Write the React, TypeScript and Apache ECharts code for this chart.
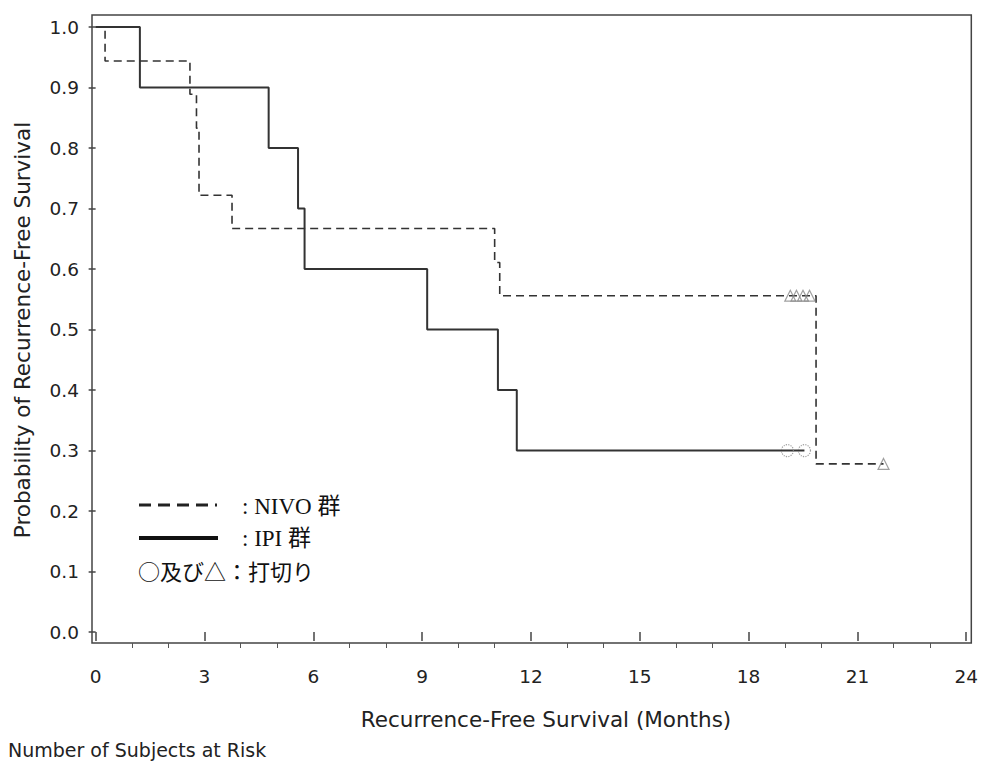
import React, { useEffect, useRef } from "react";
import * as echarts from "echarts";

// Kaplan–Meier steps (months, survival probability)
const nivoTimes = [0, 0.26, 2.6, 2.78, 2.85, 3.76, 11.0, 11.14, 19.86];
const nivoSurv = [1.0, 0.944, 0.889, 0.833, 0.722, 0.667, 0.611, 0.556, 0.278];
const nivoEnd = 21.72;
const nivoCensorTimes = [19.15, 19.32, 19.5, 19.68, 21.72];
const nivoCensorSurv = [0.556, 0.556, 0.556, 0.556, 0.278];

const ipiTimes = [0, 1.22, 4.77, 5.58, 5.76, 9.14, 11.09, 11.61];
const ipiSurv = [1.0, 0.9, 0.8, 0.7, 0.6, 0.5, 0.4, 0.3];
const ipiEnd = 19.54;
const ipiCensorTimes = [19.07, 19.54];
const ipiCensorSurv = [0.3, 0.3];

const xMajorTicks = [0, 3, 6, 9, 12, 15, 18, 21, 24];
const xMinorTicks = [1, 2, 4, 5, 7, 8, 10, 11, 13, 14, 16, 17, 19, 20, 22, 23];
const yTicks = [0, 0.1, 0.2, 0.3, 0.4, 0.5, 0.6, 0.7, 0.8, 0.9, 1.0];

const xTitle = "Recurrence-Free Survival (Months)";
const yTitle = "Probability of Recurrence-Free Survival";
const riskTitle = "Number of Subjects at Risk";
const legendNivo = ": NIVO 群";
const legendIpi = ": IPI 群";
const legendCensor = "○及び△：打切り";

function stepData(times: number[], surv: number[], end: number) {
  const d = times.map((t, i) => [t, surv[i]]);
  d.push([end, surv[surv.length - 1]]);
  return d;
}

const LINE = "#333";
const SANS = "'DejaVu Sans', sans-serif";
const SERIF = "'Liberation Serif', 'Noto Sans CJK JP', serif";
const CJK = "'Noto Sans CJK JP', sans-serif";

export default function App() {
  const ref = useRef<HTMLDivElement>(null);
  useEffect(() => {
    if (!ref.current) return;
    const chart = echarts.init(ref.current, undefined, { renderer: "svg" });
    const xMin = -0.1;
    const xMax = 24.14;
    chart.setOption({
      animation: false,
      backgroundColor: "#fff",
      grid: {
        left: 92,
        right: 9,
        top: 15,
        bottom: 120,
        show: true,
        borderColor: "#444",
        borderWidth: 1.5,
        backgroundColor: "transparent",
      },
      xAxis: [
        {
          type: "value",
          min: xMin,
          max: xMax,
          position: "bottom",
          axisLine: { show: false },
          splitLine: { show: false },
          axisTick: {
            show: true,
            customValues: xMajorTicks,
            length: 9,
            lineStyle: { color: "#444", width: 1.5 },
          },
          axisLabel: {
            customValues: xMajorTicks,
            margin: 24,
            fontSize: 18.5,
            fontFamily: SANS,
            color: "#222",
          },
        },
        {
          type: "value",
          min: xMin,
          max: xMax,
          position: "bottom",
          axisLine: { show: false },
          splitLine: { show: false },
          axisTick: {
            show: true,
            customValues: xMinorTicks,
            length: 5,
            lineStyle: { color: "#555", width: 1 },
          },
          axisLabel: { show: false },
        },
      ],
      yAxis: {
        type: "value",
        min: -0.018,
        max: 1.02,
        axisLine: { show: false },
        splitLine: { show: false },
        axisTick: {
          show: true,
          customValues: yTicks,
          length: 7,
          lineStyle: { color: "#444", width: 1.5 },
        },
        axisLabel: {
          customValues: yTicks,
          margin: 13,
          fontSize: 18.5,
          fontFamily: SANS,
          color: "#222",
          formatter: (v: number) => v.toFixed(1),
        },
      },
      series: [
        {
          type: "line",
          name: "NIVO",
          step: "end",
          showSymbol: false,
          symbol: "none",
          data: stepData(nivoTimes, nivoSurv, nivoEnd),
          lineStyle: { color: LINE, width: 1.6, type: [8, 5] },
          z: 3,
        },
        {
          type: "line",
          name: "IPI",
          step: "end",
          showSymbol: false,
          symbol: "none",
          data: stepData(ipiTimes, ipiSurv, ipiEnd),
          lineStyle: { color: LINE, width: 2 },
          z: 3,
        },
        {
          type: "scatter",
          symbol: "triangle",
          symbolSize: 11,
          data: nivoCensorTimes.map((t, i) => [t, nivoCensorSurv[i]]),
          itemStyle: { color: "transparent", borderColor: "#888", borderWidth: 1.2 },
          z: 4,
        },
        {
          type: "scatter",
          symbol: "circle",
          symbolSize: 12,
          data: ipiCensorTimes.map((t, i) => [t, ipiCensorSurv[i]]),
          itemStyle: { color: "transparent", borderColor: "#888", borderWidth: 1.2, borderType: "dotted" },
          z: 4,
        },
      ],
      graphic: [
        {
          type: "text",
          x: 546,
          y: 719,
          style: { text: xTitle, font: `21.5px ${SANS}`, fill: "#222", textAlign: "center", textVerticalAlign: "middle" },
        },
        {
          type: "text",
          x: 22,
          y: 330,
          rotation: Math.PI / 2,
          style: { text: yTitle, font: `21.5px ${SANS}`, fill: "#222", textAlign: "center", textVerticalAlign: "middle" },
        },
        {
          type: "text",
          x: 8,
          y: 750,
          style: { text: riskTitle, font: `19px ${SANS}`, fill: "#222", textAlign: "left", textVerticalAlign: "middle" },
        },
        {
          type: "line",
          shape: { x1: 139, y1: 505, x2: 217, y2: 505 },
          style: { stroke: "#222", lineWidth: 3, lineDash: [12, 7] },
        },
        {
          type: "line",
          shape: { x1: 139, y1: 538, x2: 218, y2: 538 },
          style: { stroke: "#111", lineWidth: 4 },
        },
        {
          type: "text",
          x: 242,
          y: 506,
          style: { text: legendNivo, font: `23px ${SERIF}`, fill: "#111", textAlign: "left", textVerticalAlign: "middle" },
        },
        {
          type: "text",
          x: 242,
          y: 538,
          style: { text: legendIpi, font: `23px ${SERIF}`, fill: "#111", textAlign: "left", textVerticalAlign: "middle" },
        },
        {
          type: "text",
          x: 138,
          y: 570,
          style: { text: legendCensor, font: `22px ${CJK}`, fill: "#111", textAlign: "left", textVerticalAlign: "middle" },
        },
      ],
    });
    return () => chart.dispose();
  }, []);
  return (
    <div
      ref={ref}
      style={{ position: "fixed", left: 0, top: 0, width: 981, height: 763, background: "#fff" }}
    />
  );
}
